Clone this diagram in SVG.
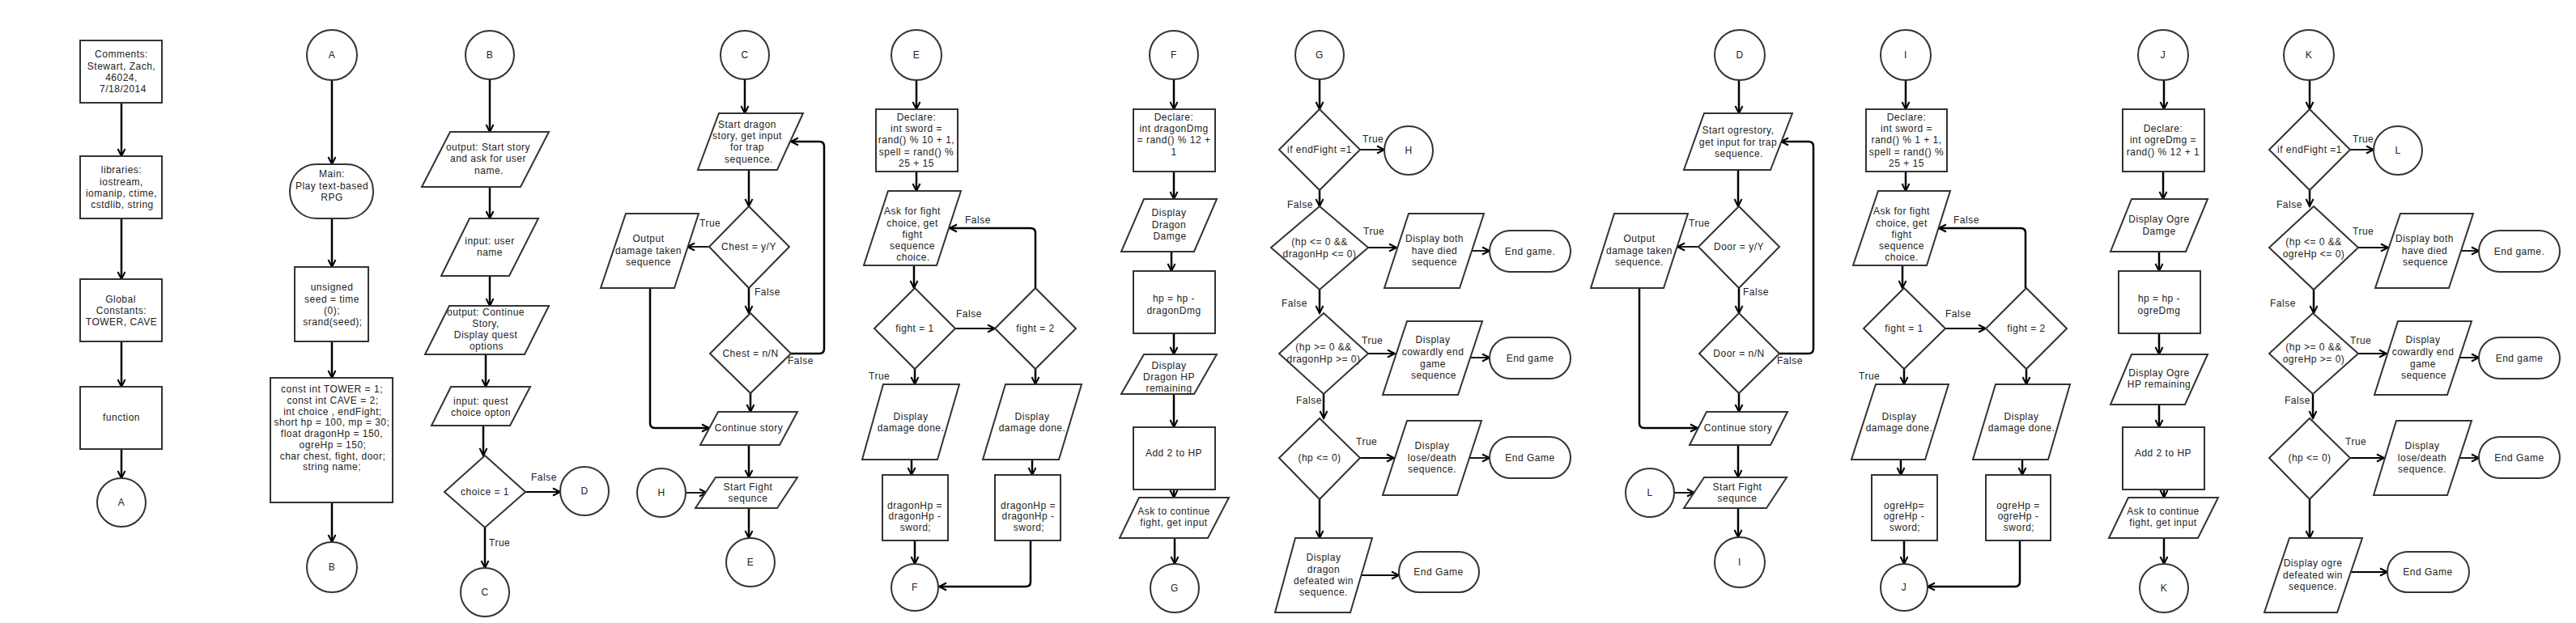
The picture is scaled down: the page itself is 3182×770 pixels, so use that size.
<svg xmlns="http://www.w3.org/2000/svg" width="3182" height="770" viewBox="0 0 3182 770">
<style>
.s{fill:#fff;stroke:#333;stroke-width:2}
.t{font-family:"Liberation Sans",Arial,sans-serif;font-size:12px;fill:#222;text-anchor:middle;letter-spacing:0.5px}
.lb{font-family:"Liberation Sans",Arial,sans-serif;font-size:12px;fill:#222;text-anchor:start;letter-spacing:0.5px}
.v{fill:none;stroke:#000;stroke-width:2.5;marker-end:url(#ah)}
.h{fill:none;stroke:#000;stroke-width:1.8;marker-end:url(#ah)}
</style>
<defs>
<marker id="ah" markerUnits="userSpaceOnUse" markerWidth="14" markerHeight="14" refX="11" refY="7" orient="auto"><path d="M2,2.5 L11,7 L2,11.5" fill="none" stroke="#000" stroke-width="2"/></marker>
</defs>
<rect width="3182" height="770" fill="#fff"/>

<g id="connectors">
<line class="v" x1="150" y1="127" x2="150" y2="193"/>
<line class="v" x1="150" y1="270" x2="150" y2="345"/>
<line class="v" x1="150" y1="422" x2="150" y2="478"/>
<line class="v" x1="150" y1="555" x2="150" y2="591"/>
<line class="v" x1="410" y1="99" x2="410" y2="203"/>
<line class="v" x1="410" y1="270" x2="410" y2="330"/>
<line class="v" x1="410" y1="422" x2="410" y2="467"/>
<line class="v" x1="410" y1="621" x2="410" y2="670"/>
<line class="v" x1="605" y1="98" x2="605" y2="163"/>
<line class="v" x1="605" y1="231" x2="605" y2="270"/>
<line class="v" x1="605" y1="341" x2="605" y2="378"/>
<line class="v" x1="600" y1="438" x2="600" y2="478"/>
<line class="v" x1="597" y1="526" x2="597" y2="563"/>
<line class="h" x1="649" y1="608" x2="692" y2="608"/>
<line class="v" x1="599" y1="652" x2="599" y2="702"/>
<line class="v" x1="920" y1="98" x2="920" y2="140"/>
<line class="v" x1="925" y1="210" x2="925" y2="255"/>
<line class="h" x1="876" y1="305" x2="849" y2="305"/>
<path class="v" d="M803,356 V523 Q803,529 809,529 H876"/>
<line class="v" x1="925" y1="356" x2="925" y2="387"/>
<path class="v" d="M977,437 H1012 Q1018,437 1018,431 V181 Q1018,175 1012,175 H977"/>
<line class="v" x1="927" y1="486" x2="927" y2="509"/>
<line class="v" x1="925" y1="550" x2="925" y2="590"/>
<line class="h" x1="847" y1="609" x2="873" y2="609"/>
<line class="v" x1="925" y1="628" x2="925" y2="665"/>
<line class="v" x1="1132" y1="99" x2="1132" y2="135"/>
<line class="v" x1="1132" y1="212" x2="1132" y2="236"/>
<line class="v" x1="1129" y1="328" x2="1129" y2="356"/>
<line class="h" x1="1180" y1="406" x2="1229" y2="406"/>
<path class="v" d="M1279,356 V288 Q1279,282 1273,282 H1173"/>
<line class="v" x1="1130" y1="456" x2="1130" y2="475"/>
<line class="v" x1="1279" y1="456" x2="1279" y2="475"/>
<line class="v" x1="1126" y1="568" x2="1126" y2="587"/>
<line class="v" x1="1275" y1="568" x2="1275" y2="587"/>
<line class="v" x1="1130" y1="668" x2="1130" y2="697"/>
<path class="v" d="M1273,668 V719 Q1273,725 1267,725 H1160"/>
<line class="v" x1="1450" y1="98" x2="1450" y2="135"/>
<line class="v" x1="1450" y1="212" x2="1450" y2="246"/>
<line class="v" x1="1447" y1="311" x2="1447" y2="335"/>
<line class="v" x1="1450" y1="412" x2="1450" y2="438"/>
<line class="v" x1="1450" y1="487" x2="1450" y2="528"/>
<line class="v" x1="1450" y1="605" x2="1450" y2="615"/>
<line class="v" x1="1451" y1="665" x2="1451" y2="697"/>
<line class="v" x1="1630" y1="98" x2="1630" y2="135"/>
<line class="h" x1="1680" y1="185" x2="1710" y2="185"/>
<line class="v" x1="1630" y1="235" x2="1630" y2="255"/>
<line class="h" x1="1690" y1="306" x2="1725" y2="306"/>
<line class="h" x1="1818" y1="310" x2="1840" y2="310"/>
<line class="v" x1="1630" y1="358" x2="1630" y2="387"/>
<line class="h" x1="1690" y1="437" x2="1723" y2="437"/>
<line class="h" x1="1816" y1="442" x2="1840" y2="442"/>
<line class="v" x1="1635" y1="487" x2="1635" y2="517"/>
<line class="h" x1="1680" y1="566" x2="1722" y2="566"/>
<line class="h" x1="1815" y1="566" x2="1840" y2="566"/>
<line class="v" x1="1630" y1="617" x2="1630" y2="665"/>
<line class="h" x1="1682" y1="711" x2="1728" y2="711"/>
<line class="v" x1="2148" y1="99" x2="2148" y2="140"/>
<line class="v" x1="2147" y1="210" x2="2147" y2="255"/>
<line class="h" x1="2098" y1="305" x2="2072" y2="305"/>
<path class="v" d="M2025,356 V523 Q2025,529 2031,529 H2097"/>
<line class="v" x1="2148" y1="356" x2="2148" y2="387"/>
<path class="v" d="M2198,437 H2234 Q2240,437 2240,431 V181 Q2240,175 2234,175 H2200"/>
<line class="v" x1="2148" y1="486" x2="2148" y2="509"/>
<line class="v" x1="2147" y1="550" x2="2147" y2="590"/>
<line class="h" x1="2068" y1="609" x2="2093" y2="609"/>
<line class="v" x1="2147" y1="628" x2="2147" y2="664"/>
<line class="v" x1="2354" y1="99" x2="2354" y2="135"/>
<line class="v" x1="2354" y1="212" x2="2354" y2="236"/>
<line class="v" x1="2350" y1="328" x2="2350" y2="356"/>
<line class="h" x1="2403" y1="406" x2="2453" y2="406"/>
<path class="v" d="M2502,356 V288 Q2502,282 2496,282 H2395"/>
<line class="v" x1="2352" y1="456" x2="2352" y2="475"/>
<line class="v" x1="2503" y1="456" x2="2503" y2="475"/>
<line class="v" x1="2348" y1="568" x2="2348" y2="587"/>
<line class="v" x1="2498" y1="568" x2="2498" y2="587"/>
<line class="v" x1="2352" y1="668" x2="2352" y2="697"/>
<path class="v" d="M2495,668 V719 Q2495,725 2489,725 H2381"/>
<line class="v" x1="2673" y1="99" x2="2673" y2="135"/>
<line class="v" x1="2672" y1="212" x2="2672" y2="246"/>
<line class="v" x1="2667" y1="311" x2="2667" y2="335"/>
<line class="v" x1="2667" y1="412" x2="2667" y2="438"/>
<line class="v" x1="2667" y1="500" x2="2667" y2="528"/>
<line class="v" x1="2673" y1="605" x2="2673" y2="615"/>
<line class="v" x1="2673" y1="665" x2="2673" y2="697"/>
<line class="v" x1="2853" y1="99" x2="2853" y2="135"/>
<line class="h" x1="2903" y1="185" x2="2932" y2="185"/>
<line class="v" x1="2853" y1="235" x2="2853" y2="255"/>
<line class="h" x1="2913" y1="306" x2="2950" y2="306"/>
<line class="h" x1="3040" y1="310" x2="3062" y2="310"/>
<line class="v" x1="2858" y1="358" x2="2858" y2="387"/>
<line class="h" x1="2913" y1="437" x2="2948" y2="437"/>
<line class="h" x1="3038" y1="442" x2="3062" y2="442"/>
<line class="v" x1="2857" y1="487" x2="2857" y2="517"/>
<line class="h" x1="2903" y1="566" x2="2945" y2="566"/>
<line class="h" x1="3038" y1="566" x2="3062" y2="566"/>
<line class="v" x1="2853" y1="617" x2="2853" y2="665"/>
<line class="h" x1="2903" y1="707" x2="2949" y2="707"/>
<text class="lb" x="656" y="594">False</text>
<text class="lb" x="604" y="675">True</text>
<text class="lb" x="864" y="280">True</text>
<text class="lb" x="932" y="365">False</text>
<text class="lb" x="973" y="450">False</text>
<text class="lb" x="1181" y="392">False</text>
<text class="lb" x="1192" y="276">False</text>
<text class="lb" x="1073" y="469">True</text>
<text class="lb" x="1683" y="176">True</text>
<text class="lb" x="1590" y="257">False</text>
<text class="lb" x="1684" y="290">True</text>
<text class="lb" x="1583" y="379">False</text>
<text class="lb" x="1682" y="425">True</text>
<text class="lb" x="1601" y="499">False</text>
<text class="lb" x="1675" y="550">True</text>
<text class="lb" x="2086" y="280">True</text>
<text class="lb" x="2153" y="365">False</text>
<text class="lb" x="2195" y="450">False</text>
<text class="lb" x="2403" y="392">False</text>
<text class="lb" x="2413" y="276">False</text>
<text class="lb" x="2296" y="469">True</text>
<text class="lb" x="2906" y="176">True</text>
<text class="lb" x="2812" y="257">False</text>
<text class="lb" x="2906" y="290">True</text>
<text class="lb" x="2804" y="379">False</text>
<text class="lb" x="2903" y="425">True</text>
<text class="lb" x="2822" y="499">False</text>
<text class="lb" x="2897" y="550">True</text>
</g>

<g id="n-comments"><rect class="s" x="99" y="50" width="101" height="77"/><text class="t"><tspan x="150" y="71">Comments:</tspan><tspan x="150" y="86">Stewart, Zach,</tspan><tspan x="150" y="100">46024,</tspan><tspan x="152" y="114">7/18/2014</tspan></text></g>
<g id="n-libraries"><rect class="s" x="99" y="193" width="101" height="77"/><text class="t"><tspan x="150" y="214">libraries:</tspan><tspan x="150" y="229">iostream,</tspan><tspan x="150" y="243">iomanip, ctime,</tspan><tspan x="151" y="257">cstdlib, string</tspan></text></g>
<g id="n-global"><rect class="s" x="99" y="345" width="101" height="77"/><text class="t"><tspan x="149" y="374">Global</tspan><tspan x="150" y="388">Constants:</tspan><tspan x="150" y="402">TOWER, CAVE</tspan></text></g>
<g id="n-function"><rect class="s" x="99" y="478" width="101" height="77"/><text class="t" x="150" y="520">function</text></g>
<g id="n-a1"><circle class="s" cx="150" cy="621" r="30"/><text class="t" x="150" y="625">A</text></g>

<g id="n-a2"><circle class="s" cx="410" cy="68" r="31"/><text class="t" x="410" y="72">A</text></g>
<g id="n-main"><rect class="s" x="358" y="203" width="103" height="67" rx="33"/><text class="t"><tspan x="410" y="219">Main:</tspan><tspan x="410" y="234">Play text-based</tspan><tspan x="410" y="248">RPG</tspan></text></g>
<g id="n-seed"><rect class="s" x="364" y="330" width="91" height="92"/><text class="t"><tspan x="410" y="359">unsigned</tspan><tspan x="410" y="374">seed = time</tspan><tspan x="410" y="388">(0);</tspan><tspan x="411" y="402">srand(seed);</tspan></text></g>
<g id="n-const"><rect class="s" x="334" y="467" width="151" height="154"/><text class="t"><tspan x="410" y="485">const int TOWER = 1;</tspan><tspan x="411" y="499">const int CAVE = 2;</tspan><tspan x="411" y="513">int choice , endFight;</tspan><tspan x="410" y="526">short hp = 100, mp = 30;</tspan><tspan x="410" y="540">float dragonHp = 150,</tspan><tspan x="411" y="554">ogreHp = 150;</tspan><tspan x="411" y="568">char chest, fight, door;</tspan><tspan x="410" y="581">string name;</tspan></text></g>
<g id="n-b1"><circle class="s" cx="410" cy="701" r="31"/><text class="t" x="410" y="705">B</text></g>

<g id="n-b2"><circle class="s" cx="605" cy="68" r="30"/><text class="t" x="605" y="72">B</text></g>
<g id="n-out1"><polygon class="s" points="556,163 678,163 643,231 521,231"/><text class="t"><tspan x="603" y="186">output: Start story</tspan><tspan x="603" y="200">and ask for user</tspan><tspan x="604" y="215">name.</tspan></text></g>
<g id="n-in1"><polygon class="s" points="580,270 665,270 629,341 545,341"/><text class="t"><tspan x="605" y="302">input: user</tspan><tspan x="605" y="316">name</tspan></text></g>
<g id="n-out2"><polygon class="s" points="555,378 678,378 648,438 525,438"/><text class="t"><tspan x="600" y="390">output: Continue</tspan><tspan x="600" y="404">Story,</tspan><tspan x="600" y="418">Display quest</tspan><tspan x="601" y="432">options</tspan></text></g>
<g id="n-in2"><polygon class="s" points="557,478 655,478 630,526 533,526"/><text class="t"><tspan x="594" y="500">input: quest</tspan><tspan x="594" y="514">choice opton</tspan></text></g>
<g id="n-choice"><polygon class="s" points="599,563 649,608 599,652 549,608"/><text class="t" x="599" y="612">choice = 1</text></g>
<g id="n-d1"><circle class="s" cx="722" cy="607" r="30"/><text class="t" x="722" y="611">D</text></g>
<g id="n-c1"><circle class="s" cx="599" cy="732" r="30"/><text class="t" x="599" y="736">C</text></g>

<g id="n-c2"><circle class="s" cx="920" cy="68" r="30"/><text class="t" x="920" y="72">C</text></g>
<g id="n-story1"><polygon class="s" points="888,140 992,140 960,210 862,210"/><text class="t"><tspan x="923" y="158">Start dragon</tspan><tspan x="923" y="172">story, get input</tspan><tspan x="923" y="186">for trap</tspan><tspan x="925" y="201">sequence.</tspan></text></g>
<g id="n-chest1"><polygon class="s" points="925,255 975,305 925,356 876,305"/><text class="t" x="925" y="309">Chest = y/Y</text></g>
<g id="n-outdmg1"><polygon class="s" points="773,264 863,264 833,356 742,356"/><text class="t"><tspan x="801" y="299">Output</tspan><tspan x="801" y="314">damage taken</tspan><tspan x="801" y="328">sequence</tspan></text></g>
<g id="n-chest2"><polygon class="s" points="927,387 977,437 927,486 877,437"/><text class="t" x="927" y="441">Chest = n/N</text></g>
<g id="n-cont1"><polygon class="s" points="887,509 985,509 963,550 865,550"/><text class="t" x="925" y="533">Continue story</text></g>
<g id="n-fight1"><polygon class="s" points="884,590 985,590 960,628 859,628"/><text class="t"><tspan x="924" y="606">Start Fight</tspan><tspan x="924" y="620">sequnce</tspan></text></g>
<g id="n-h1"><circle class="s" cx="817" cy="609" r="30"/><text class="t" x="817" y="613">H</text></g>
<g id="n-e1"><circle class="s" cx="927" cy="695" r="30"/><text class="t" x="927" y="699">E</text></g>

<g id="n-e2"><circle class="s" cx="1132" cy="68" r="31"/><text class="t" x="1132" y="72">E</text></g>
<g id="n-decl1"><rect class="s" x="1082" y="135" width="101" height="77"/><text class="t"><tspan x="1132" y="149">Declare:</tspan><tspan x="1132" y="163">int sword =</tspan><tspan x="1132" y="177">rand() % 10 + 1,</tspan><tspan x="1132" y="192">spell = rand() %</tspan><tspan x="1132" y="206">25 + 15</tspan></text></g>
<g id="n-ask1"><polygon class="s" points="1097,236 1187,236 1157,328 1067,328"/><text class="t"><tspan x="1127" y="265">Ask for fight</tspan><tspan x="1127" y="280">choice, get</tspan><tspan x="1127" y="294">fight</tspan><tspan x="1127" y="308">sequence</tspan><tspan x="1128" y="322">choice.</tspan></text></g>
<g id="n-f1a"><polygon class="s" points="1130,356 1180,406 1130,456 1080,406"/><text class="t" x="1130" y="410">fight = 1</text></g>
<g id="n-f2a"><polygon class="s" points="1279,356 1329,406 1279,456 1229,406"/><text class="t" x="1279" y="410">fight = 2</text></g>
<g id="n-disp1a"><polygon class="s" points="1091,475 1185,475 1158,568 1065,568"/><text class="t"><tspan x="1125" y="519">Display</tspan><tspan x="1125" y="533">damage done.</tspan></text></g>
<g id="n-disp2a"><polygon class="s" points="1242,475 1336,475 1308,568 1214,568"/><text class="t"><tspan x="1275" y="519">Display</tspan><tspan x="1275" y="533">damage done.</tspan></text></g>
<g id="n-hp1a"><rect class="s" x="1090" y="587" width="81" height="81"/><text class="t"><tspan x="1130" y="629">dragonHp =</tspan><tspan x="1130" y="642">dragonHp -</tspan><tspan x="1131" y="656">sword;</tspan></text></g>
<g id="n-hp2a"><rect class="s" x="1229" y="587" width="81" height="81"/><text class="t"><tspan x="1270" y="629">dragonHp =</tspan><tspan x="1270" y="642">dragonHp -</tspan><tspan x="1271" y="656">sword;</tspan></text></g>
<g id="n-f1"><circle class="s" cx="1130" cy="726" r="29"/><text class="t" x="1130" y="730">F</text></g>

<g id="n-f2"><circle class="s" cx="1450" cy="68" r="30"/><text class="t" x="1450" y="72">F</text></g>
<g id="n-decl2"><rect class="s" x="1400" y="135" width="101" height="77"/><text class="t"><tspan x="1450" y="149">Declare:</tspan><tspan x="1450" y="163">int dragonDmg</tspan><tspan x="1450" y="177">= rand() % 12 +</tspan><tspan x="1450" y="192">1</tspan></text></g>
<g id="n-dispdd"><polygon class="s" points="1413,246 1503,246 1475,311 1385,311"/><text class="t"><tspan x="1444" y="267">Display</tspan><tspan x="1444" y="282">Dragon</tspan><tspan x="1445" y="296">Damge</tspan></text></g>
<g id="n-hpd"><rect class="s" x="1400" y="335" width="101" height="77"/><text class="t"><tspan x="1450" y="373">hp = hp -</tspan><tspan x="1450" y="388">dragonDmg</tspan></text></g>
<g id="n-disphp"><polygon class="s" points="1413,438 1503,438 1475,487 1385,487"/><text class="t"><tspan x="1444" y="456">Display</tspan><tspan x="1444" y="470">Dragon HP</tspan><tspan x="1444" y="484">remaining</tspan></text></g>
<g id="n-add1"><rect class="s" x="1400" y="528" width="101" height="77"/><text class="t" x="1450" y="564">Add 2 to HP</text></g>
<g id="n-askc1"><polygon class="s" points="1407,615 1518,615 1492,665 1383,665"/><text class="t"><tspan x="1450" y="636">Ask to continue</tspan><tspan x="1450" y="650">fight, get input</tspan></text></g>
<g id="n-g1"><circle class="s" cx="1451" cy="727" r="30"/><text class="t" x="1451" y="731">G</text></g>

<g id="n-g2"><circle class="s" cx="1630" cy="68" r="30"/><text class="t" x="1630" y="72">G</text></g>
<g id="n-endf1"><polygon class="s" points="1630,135 1680,185 1630,235 1580,185"/><text class="t" x="1630" y="189">if endFight =1</text></g>
<g id="n-h2"><circle class="s" cx="1740" cy="186" r="30"/><text class="t" x="1740" y="190">H</text></g>
<g id="n-bothd1"><polygon class="s" points="1630,255 1690,306 1630,358 1570,306"/><text class="t"><tspan x="1630" y="303">(hp &lt;= 0 &amp;&amp;</tspan><tspan x="1630" y="318">dragonHp &lt;= 0)</tspan></text></g>
<g id="n-botho1"><polygon class="s" points="1740,264 1833,264 1803,356 1710,356"/><text class="t"><tspan x="1772" y="299">Display both</tspan><tspan x="1772" y="314">have died</tspan><tspan x="1772" y="328">sequence</tspan></text></g>
<g id="n-end1"><rect class="s" x="1840" y="285" width="100" height="51" rx="25.5"/><text class="t" x="1890" y="315">End game.</text></g>
<g id="n-cowd1"><polygon class="s" points="1635,387 1690,437 1635,487 1580,437"/><text class="t"><tspan x="1635" y="433">(hp &gt;= 0 &amp;&amp;</tspan><tspan x="1635" y="448">dragonHp &gt;= 0)</tspan></text></g>
<g id="n-cowo1"><polygon class="s" points="1738,397 1831,397 1801,488 1708,488"/><text class="t"><tspan x="1770" y="424">Display</tspan><tspan x="1770" y="439">cowardly end</tspan><tspan x="1770" y="454">game</tspan><tspan x="1771" y="468">sequence</tspan></text></g>
<g id="n-end2"><rect class="s" x="1840" y="417" width="100" height="51" rx="25.5"/><text class="t" x="1890" y="447">End game</text></g>
<g id="n-hp0d1"><polygon class="s" points="1630,517 1680,566 1630,617 1580,566"/><text class="t" x="1630" y="570">(hp &lt;= 0)</text></g>
<g id="n-loseo1"><polygon class="s" points="1738,520 1830,520 1800,612 1708,612"/><text class="t"><tspan x="1769" y="555">Display</tspan><tspan x="1769" y="570">lose/death</tspan><tspan x="1769" y="584">sequence.</tspan></text></g>
<g id="n-end3"><rect class="s" x="1840" y="540" width="100" height="51" rx="25.5"/><text class="t" x="1890" y="570">End Game</text></g>
<g id="n-wino1"><polygon class="s" points="1600,665 1695,665 1668,757 1575,757"/><text class="t"><tspan x="1635" y="693">Display</tspan><tspan x="1635" y="708">dragon</tspan><tspan x="1635" y="722">defeated win</tspan><tspan x="1635" y="736">sequence.</tspan></text></g>
<g id="n-end4"><rect class="s" x="1728" y="682" width="99" height="50" rx="25"/><text class="t" x="1777" y="711">End Game</text></g>

<g id="n-outdmg2"><polygon class="s" points="1994,264 2085,264 2055,356 1965,356"/><text class="t"><tspan x="2025" y="299">Output</tspan><tspan x="2025" y="314">damage taken</tspan><tspan x="2025" y="328">sequence.</tspan></text></g>
<g id="n-l1"><circle class="s" cx="2038" cy="609" r="30"/><text class="t" x="2038" y="613">L</text></g>
<g id="n-d2"><circle class="s" cx="2149" cy="68" r="31"/><text class="t" x="2149" y="72">D</text></g>
<g id="n-story2"><polygon class="s" points="2105,140 2214,140 2187,210 2080,210"/><text class="t"><tspan x="2147" y="165">Start ogrestory,</tspan><tspan x="2147" y="180">get input for trap</tspan><tspan x="2148" y="194">sequence.</tspan></text></g>
<g id="n-door1"><polygon class="s" points="2148,255 2198,305 2148,356 2098,305"/><text class="t" x="2148" y="309">Door = y/Y</text></g>
<g id="n-door2"><polygon class="s" points="2148,387 2198,437 2148,486 2099,437"/><text class="t" x="2148" y="441">Door = n/N</text></g>
<g id="n-cont2"><polygon class="s" points="2108,509 2208,509 2187,550 2087,550"/><text class="t" x="2147" y="533">Continue story</text></g>
<g id="n-fight2"><polygon class="s" points="2105,590 2207,590 2182,628 2080,628"/><text class="t"><tspan x="2146" y="606">Start Fight</tspan><tspan x="2146" y="620">sequnce</tspan></text></g>
<g id="n-i1"><circle class="s" cx="2149" cy="695" r="31"/><text class="t" x="2149" y="699">I</text></g>

<g id="n-i2"><circle class="s" cx="2354" cy="68" r="31"/><text class="t" x="2354" y="72">I</text></g>
<g id="n-decl3"><rect class="s" x="2305" y="135" width="100" height="77"/><text class="t"><tspan x="2355" y="149">Declare:</tspan><tspan x="2355" y="163">int sword =</tspan><tspan x="2355" y="177">rand() % 1 + 1,</tspan><tspan x="2355" y="192">spell = rand() %</tspan><tspan x="2355" y="206">25 + 15</tspan></text></g>
<g id="n-ask2"><polygon class="s" points="2320,236 2409,236 2380,328 2289,328"/><text class="t"><tspan x="2349" y="265">Ask for fight</tspan><tspan x="2349" y="280">choice, get</tspan><tspan x="2349" y="294">fight</tspan><tspan x="2349" y="308">sequence</tspan><tspan x="2349" y="322">choice.</tspan></text></g>
<g id="n-f1b"><polygon class="s" points="2352,356 2403,406 2352,456 2302,406"/><text class="t" x="2352" y="410">fight = 1</text></g>
<g id="n-f2b"><polygon class="s" points="2503,356 2553,406 2503,456 2453,406"/><text class="t" x="2503" y="410">fight = 2</text></g>
<g id="n-disp1b"><polygon class="s" points="2317,475 2407,475 2378,568 2287,568"/><text class="t"><tspan x="2346" y="519">Display</tspan><tspan x="2346" y="533">damage done.</tspan></text></g>
<g id="n-disp2b"><polygon class="s" points="2465,475 2557,475 2530,568 2437,568"/><text class="t"><tspan x="2497" y="519">Display</tspan><tspan x="2497" y="533">damage done.</tspan></text></g>
<g id="n-hp1b"><rect class="s" x="2312" y="587" width="81" height="81"/><text class="t"><tspan x="2352" y="629">ogreHp=</tspan><tspan x="2352" y="642">ogreHp -</tspan><tspan x="2353" y="656">sword;</tspan></text></g>
<g id="n-hp2b"><rect class="s" x="2453" y="587" width="80" height="81"/><text class="t"><tspan x="2493" y="629">ogreHp =</tspan><tspan x="2493" y="642">ogreHp -</tspan><tspan x="2494" y="656">sword;</tspan></text></g>
<g id="n-j1"><circle class="s" cx="2352" cy="726" r="29"/><text class="t" x="2352" y="730">J</text></g>

<g id="n-j2"><circle class="s" cx="2672" cy="68" r="31"/><text class="t" x="2672" y="72">J</text></g>
<g id="n-decl4"><rect class="s" x="2622" y="135" width="101" height="77"/><text class="t"><tspan x="2672" y="163">Declare:</tspan><tspan x="2672" y="177">int ogreDmg =</tspan><tspan x="2672" y="192">rand() % 12 + 1</tspan></text></g>
<g id="n-dispod"><polygon class="s" points="2633,246 2727,246 2700,311 2607,311"/><text class="t"><tspan x="2667" y="275">Display Ogre</tspan><tspan x="2667" y="290">Damge</tspan></text></g>
<g id="n-hpo"><rect class="s" x="2617" y="335" width="101" height="77"/><text class="t"><tspan x="2667" y="373">hp = hp -</tspan><tspan x="2667" y="388">ogreDmg</tspan></text></g>
<g id="n-disphpo"><polygon class="s" points="2633,438 2727,438 2699,500 2607,500"/><text class="t"><tspan x="2667" y="465">Display Ogre</tspan><tspan x="2667" y="479">HP remaining</tspan></text></g>
<g id="n-add2"><rect class="s" x="2622" y="528" width="101" height="77"/><text class="t" x="2672" y="564">Add 2 to HP</text></g>
<g id="n-askc2"><polygon class="s" points="2629,615 2740,615 2715,665 2605,665"/><text class="t"><tspan x="2672" y="636">Ask to continue</tspan><tspan x="2672" y="650">fight, get input</tspan></text></g>
<g id="n-k1"><circle class="s" cx="2673" cy="727" r="30"/><text class="t" x="2673" y="731">K</text></g>

<g id="n-k2"><circle class="s" cx="2852" cy="68" r="31"/><text class="t" x="2852" y="72">K</text></g>
<g id="n-endf2"><polygon class="s" points="2853,135 2903,185 2853,235 2803,185"/><text class="t" x="2853" y="189">if endFight =1</text></g>
<g id="n-l2"><circle class="s" cx="2962" cy="186" r="30"/><text class="t" x="2962" y="190">L</text></g>
<g id="n-bothd2"><polygon class="s" points="2858,255 2913,306 2858,358 2803,306"/><text class="t"><tspan x="2858" y="303">(hp &lt;= 0 &amp;&amp;</tspan><tspan x="2858" y="318">ogreHp &lt;= 0)</tspan></text></g>
<g id="n-botho2"><polygon class="s" points="2965,264 3055,264 3025,356 2934,356"/><text class="t"><tspan x="2995" y="299">Display both</tspan><tspan x="2995" y="314">have died</tspan><tspan x="2996" y="328">sequence</tspan></text></g>
<g id="n-end5"><rect class="s" x="3062" y="285" width="100" height="51" rx="25.5"/><text class="t" x="3112" y="315">End game.</text></g>
<g id="n-cowd2"><polygon class="s" points="2857,387 2913,437 2857,487 2803,437"/><text class="t"><tspan x="2858" y="433">(hp &gt;= 0 &amp;&amp;</tspan><tspan x="2858" y="448">ogreHp &gt;= 0)</tspan></text></g>
<g id="n-cowo2"><polygon class="s" points="2962,397 3053,397 3023,488 2933,488"/><text class="t"><tspan x="2993" y="424">Display</tspan><tspan x="2993" y="439">cowardly end</tspan><tspan x="2993" y="454">game</tspan><tspan x="2994" y="468">sequence</tspan></text></g>
<g id="n-end6"><rect class="s" x="3062" y="417" width="100" height="51" rx="25.5"/><text class="t" x="3112" y="447">End game</text></g>
<g id="n-hp0d2"><polygon class="s" points="2853,517 2903,566 2853,617 2803,566"/><text class="t" x="2853" y="570">(hp &lt;= 0)</text></g>
<g id="n-loseo2"><polygon class="s" points="2960,520 3053,520 3023,612 2932,612"/><text class="t"><tspan x="2992" y="555">Display</tspan><tspan x="2992" y="570">lose/death</tspan><tspan x="2992" y="584">sequence.</tspan></text></g>
<g id="n-end7"><rect class="s" x="3062" y="540" width="100" height="51" rx="25.5"/><text class="t" x="3112" y="570">End Game</text></g>
<g id="n-wino2"><polygon class="s" points="2828,665 2918,665 2887,757 2797,757"/><text class="t"><tspan x="2857" y="700">Display ogre</tspan><tspan x="2857" y="715">defeated win</tspan><tspan x="2857" y="729">sequence.</tspan></text></g>
<g id="n-end8"><rect class="s" x="2949" y="682" width="101" height="50" rx="25"/><text class="t" x="2999" y="711">End Game</text></g>
</svg>
